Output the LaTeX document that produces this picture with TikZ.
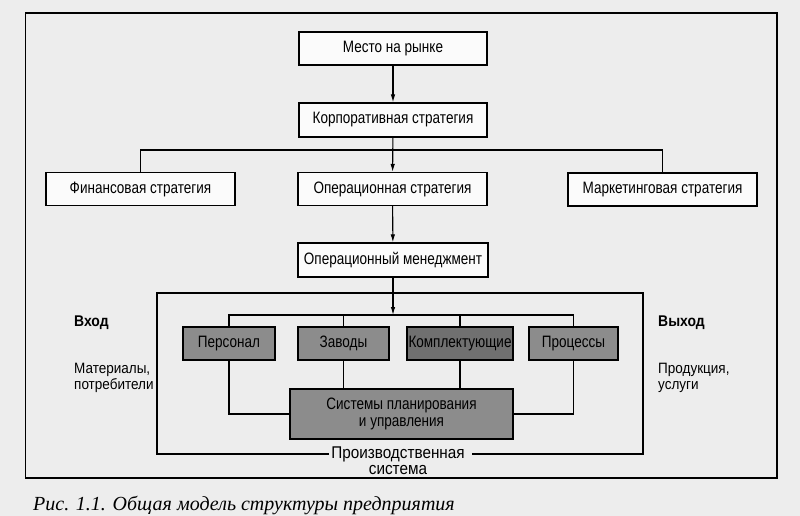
\documentclass[tikz,border=0pt]{standalone}
\usepackage{fontspec}
\setmainfont[FakeStretch=0.9]{Liberation Sans}
\newfontfamily\boxfont[FakeStretch=0.82]{Liberation Sans}
\newfontfamily\capfont{Liberation Serif}
\usetikzlibrary{arrows.meta,calc}
\definecolor{bgcol}{gray}{0.93}
\definecolor{boxfill}{gray}{0.985}
\definecolor{darkfill}{gray}{0.55}
\definecolor{darkerfill}{gray}{0.44}
\tikzset{
  wbox/.style={draw=black, line width=1.2pt, fill=boxfill, minimum height=33pt, inner sep=0pt, font=\boxfont\fontsize{16.5}{17}\selectfont},
  gbox/.style={draw=black, line width=1.2pt, fill=darkfill, minimum height=33pt, inner sep=0pt, font=\boxfont\fontsize{16.5}{17}\selectfont},
  conn/.style={line width=1.1pt, draw=black},
  arr/.style={conn, -{Latex[length=8pt,width=4.5pt]}},
  lbl/.style={inner sep=0pt, align=left, anchor=west, font=\fontsize{15}{16}\selectfont},
}
\begin{document}
\begin{tikzpicture}[x=1pt,y=-1pt]
\useasboundingbox (0,0) rectangle (800,516);
\fill[bgcol] (0,0) rectangle (800,516);
% outer frame
\draw[conn] (25.5,13) rectangle (777,478);
% top chain
\node[wbox, minimum width=188pt] (m) at (393,48.5) {Место на рынке};
\node[wbox, minimum width=188pt, minimum height=34pt] (k) at (393,120) {Корпоративная стратегия};
\node[wbox, minimum width=189pt] (f) at (140.5,189) {Финансовая стратегия};
\node[wbox, minimum width=189pt] (o) at (392.5,189) {Операционная стратегия};
\node[wbox, minimum width=189pt] (mk) at (662.5,189.5) {Маркетинговая стратегия};
\node[wbox, minimum width=190pt, minimum height=34pt] (om) at (393,260) {Операционный менеджмент};
\coordinate (tb) at (393,150);
\draw[arr] (m) -- (k);
\draw[arr] (k) -- (o);
\draw[conn] (f.north) |- (tb) -| (mk.north);
\draw[arr] (o) -- (om);
% production system frame
\node[inner sep=0pt, align=center, font=\fontsize{17}{15.5}\selectfont] (sys) at (398,460.5) {Производственная\\система};
\coordinate (sl) at (329,454);
\coordinate (sr) at (472,454);
\draw[conn] (sl) -- (157,454) -- (157,293) -- (643,293) -- (643,454) -- (sr);
% resources
\node[gbox, minimum width=92pt] (p1) at (229,343.5) {Персонал};
\node[gbox, minimum width=91pt] (p2) at (343.5,343.5) {Заводы};
\node[gbox, fill=darkerfill, minimum width=106pt] (p3) at (460,343.5) {Комплектующие};
\node[gbox, minimum width=223pt, minimum height=50pt, align=center, font=\boxfont\fontsize{16.5}{17}\selectfont] (pl) at (401.5,414) {Системы планирования\\и управления};
\node[gbox, minimum width=89pt] (p4) at (573.5,343.5) {Процессы};
\coordinate (bus) at (393,315);
\draw[arr] (om) -- (bus);
\draw[conn] (p1.north) |- (bus) -| (p4.north);
\draw[conn] (p2.north) -- (p2.north |- bus);
\draw[conn] (p3.north) -- (p3.north |- bus);
\draw[conn] (p2.south) -- (p2.south |- pl.north);
\draw[conn] (p3.south) -- (p3.south |- pl.north);
\draw[conn] (p1.south) |- (pl.west);
\draw[conn] (p4.south) |- (pl.east);
% input / output labels
\node[lbl, font=\fontsize{15.5}{16}\selectfont\bfseries] (in) at (74,323) {Вход};
\node[lbl] (inm) at (74,378) {Материалы,\\потребители};
\node[lbl, font=\fontsize{15.5}{16}\selectfont\bfseries] (out) at (658,323) {Выход};
\node[lbl] (outm) at (658,378) {Продукция,\\услуги};
% caption
\node[inner sep=0pt, anchor=base west, font=\capfont\itshape\fontsize{20}{21}\selectfont] (cap) at (33,510) {Рис. 1.1. Общая модель структуры предприятия};
\end{tikzpicture}
\end{document}
